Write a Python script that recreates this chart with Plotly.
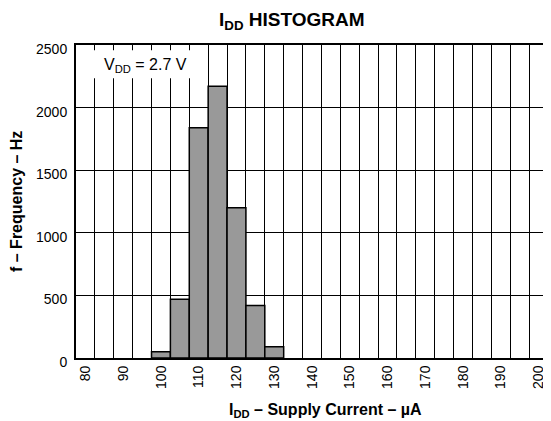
import plotly.graph_objects as go

# bin centres (µA) and counts
bin_centers = [100, 105, 110, 115, 120, 125, 130]
counts = [50, 470, 1840, 2170, 1200, 420, 90]
bin_width = 5

x_ticks = [80, 90, 100, 110, 120, 130, 140, 150, 160, 170, 180, 190, 200]
y_ticks = [0, 500, 1000, 1500, 2000, 2500]

FONT = "Liberation Sans, Arial, sans-serif"

# page body adds an 8px margin, so the figure is shrunk by that much
# plot area in page pixels: left 76, right 548, top 45, bottom 358
PW, PH = 472, 313

fig = go.Figure(go.Bar(
    x=bin_centers,
    y=counts,
    width=[bin_width] * len(bin_centers),
    marker=dict(color="#999999", line=dict(color="black", width=1.5)),
))

fig.update_layout(
    width=543,
    height=413,
    margin=dict(l=68, r=3, t=37, b=63),
    paper_bgcolor="white",
    plot_bgcolor="white",
    showlegend=False,
    font=dict(family=FONT, size=14, color="black"),
    annotations=[
        dict(text="<b>I<sub>DD</sub> HISTOGRAM</b>", xref="paper", yref="paper",
             x=(292 - 76) / PW, y=(358 - 21) / PH, xanchor="center", yanchor="middle",
             showarrow=False, font=dict(size=19)),
        dict(text="V<sub>DD</sub> = 2.7 V", xref="x", yref="y",
             x=95.9, y=2335, xanchor="center", yanchor="middle",
             showarrow=False, font=dict(size=16)),
        dict(text="<b>I<sub>DD</sub> – Supply Current – µA</b>", xref="paper", yref="paper",
             x=(325 - 76) / PW, y=(358 - 410) / PH, xanchor="center", yanchor="middle",
             showarrow=False, font=dict(size=16)),
        dict(text="<b>f – Frequency – Hz</b>", xref="paper", yref="paper",
             x=(16 - 76) / PW, y=(358 - 202) / PH, xanchor="center", yanchor="middle",
             showarrow=False, textangle=-90, font=dict(size=16)),
    ],
    shapes=[
        dict(type="rect", xref="x", yref="y", x0=77.9, x1=109.5, y0=2235, y1=2458,
             fillcolor="white", line=dict(width=0), layer="between"),
    ],
)

fig.update_xaxes(
    range=[77.5, 202.5],
    tickmode="array", tickvals=x_ticks, ticktext=[str(v) for v in x_ticks],
    tickangle=-90, tickfont=dict(size=14),
    showgrid=False, zeroline=False, automargin=False,
    ticks="",
    minor=dict(tick0=77.5, dtick=5, showgrid=True, gridcolor="black", gridwidth=1),
    showline=True, linecolor="black", linewidth=2, mirror=True,
)

fig.update_yaxes(
    range=[0, 2500],
    tickmode="array", tickvals=y_ticks, tickfont=dict(size=14),
    ticklabelstandoff=4, ticklabelshift=4,
    showgrid=True, gridcolor="black", gridwidth=1,
    zeroline=False, ticks="", automargin=False,
    showline=True, linecolor="black", linewidth=2, mirror=True,
)

fig.write_html("out.html")
